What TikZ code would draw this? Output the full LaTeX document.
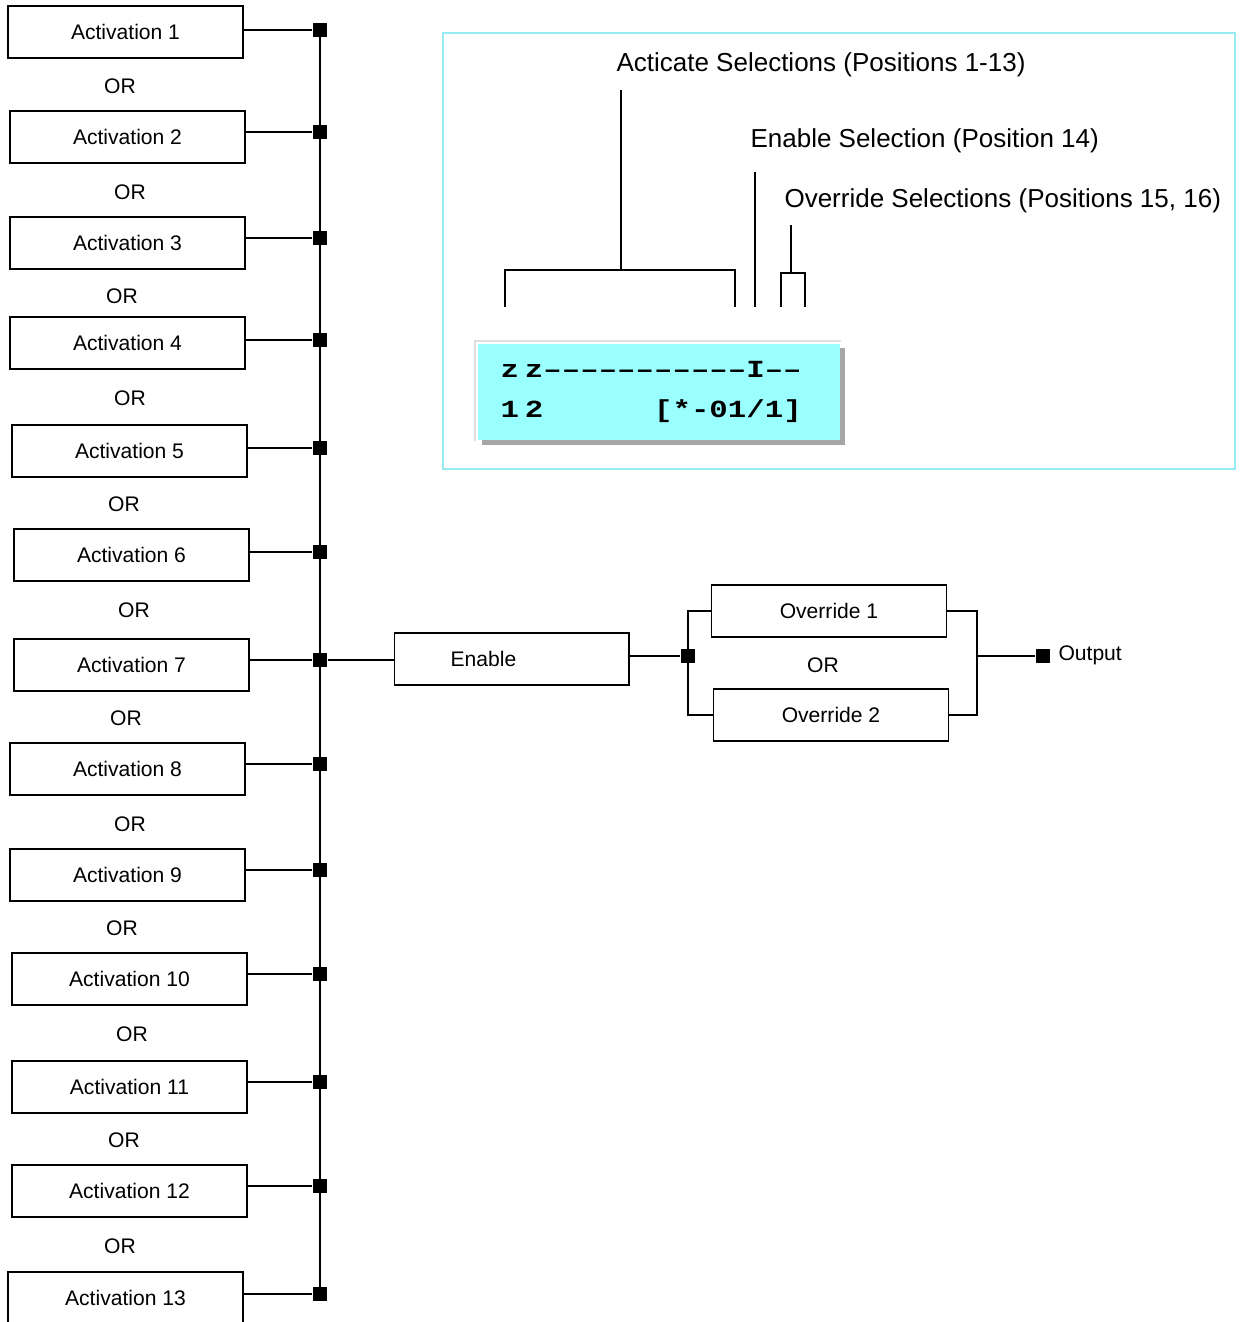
\documentclass[tikz,border=0pt]{standalone}
\usepackage{fontspec}
\setmainfont{Liberation Sans}
\newfontfamily\lcdfont{Liberation Mono}[FakeStretch=1.25]
\definecolor{panelcyan}{RGB}{150,236,240}
\definecolor{lcdcyan}{RGB}{153,255,255}

\begin{document}
\begin{tikzpicture}[x=0.02cm,y=-0.02cm,line width=0.6pt,
    logicbox/.style={draw,minimum width=4.7cm,minimum height=1.04cm,inner sep=0pt,font=\fontsize{12}{14}\selectfont},
    junct/.style={fill=black,inner sep=0pt,minimum size=0.28cm},
    ortxt/.style={font=\fontsize{12}{14}\selectfont},
    seltxt/.style={anchor=west,inner sep=0pt,font=\fontsize{14.8}{17}\selectfont},
    lcdtxt/.style={anchor=base west,inner sep=0pt,font=\lcdfont\bfseries\fontsize{14}{16}\selectfont}]
  \useasboundingbox (0,0) rectangle (1241,1322);
  \foreach \i/\cx/\cy/\jy in {1/125.5/32/30,2/127.5/137/132,3/127.5/243/238,4/127.5/343/340,
      5/129.5/451/448,6/131.5/555/552,7/131.5/665/660,8/127.5/769/764,9/127.5/875/870,
      10/129.5/979/974,11/129.5/1087/1082,12/129.5/1191/1186,13/125.5/1298/1294} {
    \node[logicbox] (act\i) at (\cx,\cy) {Activation \i};
    \node[junct] (j\i) at (320,\jy) {};
    \draw (act\i.east |- j\i) -- (j\i);
  }
  \draw (j1.center) -- (j13.center);
  \foreach \x/\y [count=\k] in {120/86,130/192,122/296,130/398,124/504,134/610,
      126/718,130/824,122/928,132/1034,124/1140,120/1246}
    \node[ortxt] (or\k) at (\x,\y) {OR};

  \node[logicbox,label={[xshift=-0.56cm,font=\fontsize{12}{14}\selectfont]center:Enable}] (en) at (511.5,659) {};
  \draw (j7) -- (en.west |- j7);
  \node[junct] (ja) at (688,656) {};
  \draw (en.east |- ja) -- (ja);
  \node[logicbox] (ov1) at (829,611) {Override 1};
  \node[logicbox] (ov2) at (831,715) {Override 2};
  \node[ortxt] (orov) at (823,665) {OR};
  \draw (ov1.west) -| (ja.center) |- (ov2.west);
  \coordinate (mg) at (977,656);
  \node[junct] (jout) at (1043,656) {};
  \draw (ov1.east) -| (mg) |- (ov2.east);
  \draw (mg) -- (jout);
  \node[anchor=west,inner sep=0pt,font=\fontsize{12}{14}\selectfont] (outlbl) at (1058,655) {Output};

  \draw[panelcyan,line width=1pt] (443,33) rectangle (1235,469);
  \node[seltxt] (selact) at (616,65) {Acticate Selections (Positions 1-13)};
  \node[seltxt] (selen) at (750,141) {Enable Selection (Position 14)};
  \node[seltxt] (selov) at (784,201) {Override Selections (Positions 15, 16)};
  \draw (621,90) -- (621,270);
  \draw (505,307) -- (505,270) -- (735,270) -- (735,307);
  \draw (755,172) -- (755,307);
  \draw (791,225) -- (791,273);
  \draw (781,307) -- (781,273) -- (805,273) -- (805,307);

  \draw[black!12] (475,441) |- (841,341);
  \fill[black!35] (482,348) rectangle (845,445);
  \fill[lcdcyan] (478,344) rectangle (840,440);
  \node[lcdtxt] (lcdtop) at (500,377) {z\kern0.12cm z–––––––––––I––};
  \node[lcdtxt] (lcdbot) at (500,417) {1\kern0.12cm 2\phantom{000000}[*-01/1]};
\end{tikzpicture}
\end{document}
